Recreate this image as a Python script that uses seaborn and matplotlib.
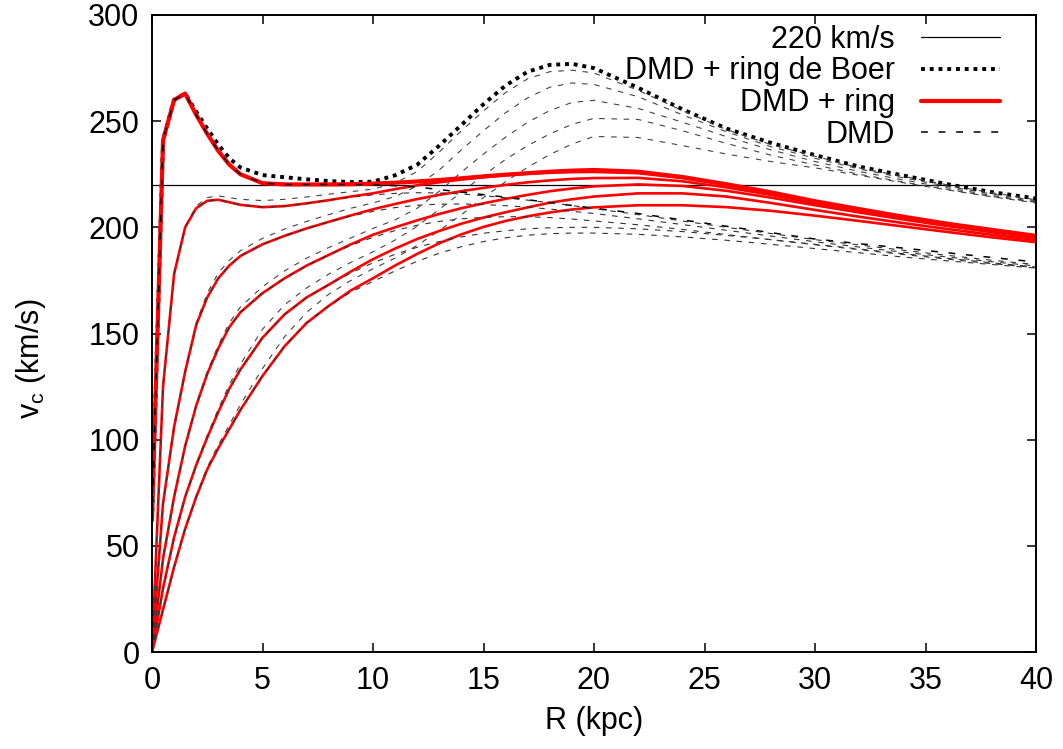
import matplotlib
matplotlib.use("Agg")
import matplotlib.pyplot as plt
import seaborn as sns

# ---------------------------------------------------------------------------
# Courbes de rotation : 6 modeles (0 = le plus concentre)
# ---------------------------------------------------------------------------
r_kpc = [0, 0.5, 1, 1.5, 2, 2.5, 3, 3.5, 4,
         5, 6, 7, 8, 9, 10, 11, 12, 13, 14, 15, 16, 17, 18, 19, 20,
         22, 24, 26, 28, 30, 32, 34, 36, 38, 40]

# DMD seul
v_dmd = [
    [62, 241, 260, 263, 253, 244, 236, 229.5, 225,
     220.8, 220.2, 220.2, 220.2, 220.2, 220, 219.6, 219, 217.8, 216.6, 215.4, 214.2, 213, 211.6, 210.3, 209,
     206.5, 203.5, 200.5, 197.5, 194.5, 192.3, 190.2, 188, 185.8, 183.7],
    [0, 125, 178, 200, 209, 212.5, 213, 211.8, 210.6,
     209.5, 210, 211.3, 212.8, 214.2, 215.3, 216, 216.3, 216.2, 215.7, 214.9, 213.9, 212.8, 211.6, 210.3, 208.8,
     206, 203, 200, 197.1, 194.2, 191.7, 189.2, 186.8, 184.5, 182.5],
    [0, 70, 106, 132, 154, 167, 176, 182, 186.5,
     192, 196, 199.5, 202.6, 205.3, 207.5, 209.3, 210.4, 210.9, 211, 210.7, 210.2, 209.5, 208.6, 207.6, 206.5,
     204, 201.3, 198.6, 195.9, 193.2, 190.7, 188.3, 186, 183.8, 181.8],
    [0, 44, 73, 97, 116, 131, 143, 153, 160,
     169, 176, 182, 187, 191.5, 195.3, 198.5, 201, 202.8, 204, 204.7, 205, 205, 204.6, 203.9, 203,
     201.2, 199, 196.6, 194.2, 191.8, 189.5, 187.2, 185, 182.9, 181],
    [0, 30, 54, 73, 88, 101, 113, 124, 133,
     148, 159, 167, 173, 178.5, 183.3, 187.3, 190.6, 193.3, 195.5, 197.2, 198.4, 199.3, 199.8, 200, 200,
     199.3, 198, 196.2, 194.2, 192, 189.8, 187.6, 185.4, 183.3, 181.3],
    [0, 20, 40, 58, 73, 86, 96, 105, 114,
     130, 144, 155, 163, 169.5, 174.5, 179.5, 184, 187.8, 190.9, 193.3, 195.1, 196.3, 197, 197.3, 197.3,
     196.7, 195.5, 193.9, 192, 190, 188, 186, 184.2, 182.5, 180.8],
]

# DMD + ring
v_ring = [
    [62, 241, 260, 263, 253, 244, 236, 229.5, 225,
     220.8, 220.2, 220.2, 220.2, 220.3, 220.6, 221, 221.6, 222.3, 223.1, 224, 224.8, 225.5, 226.2, 226.7, 227,
     226.2, 223.7, 220.3, 216.5, 212.3, 208.6, 205, 201.7, 198.8, 196],
    [0, 125, 178, 200, 209, 212.5, 213, 211.8, 210.6,
     209.5, 210, 211.3, 212.8, 214.5, 216, 218, 219.8, 221.2, 222.5, 223.6, 224.5, 225.2, 225.7, 226, 226.1,
     225.5, 223.2, 220, 216.3, 212, 208.3, 204.8, 201.5, 198.5, 195.7],
    [0, 70, 106, 132, 154, 167, 176, 182, 186.5,
     192, 196, 199.5, 202.6, 205.6, 208.5, 211, 213.3, 215.3, 217, 218.6, 220, 221.2, 222.1, 222.8, 223.2,
     223.3, 221.7, 218.8, 215.3, 211.3, 207.7, 204.3, 201.1, 198.2, 195.3],
    [0, 44, 73, 97, 116, 131, 143, 153, 160,
     169, 176, 182, 187, 192, 196.5, 200, 203.3, 206.3, 209, 211.3, 213.4, 215.3, 217, 218.3, 219.3,
     220.2, 219.5, 217.2, 214, 210.4, 207, 203.7, 200.6, 197.7, 195],
    [0, 30, 54, 73, 88, 101, 113, 124, 133,
     148, 159, 167, 173, 179.2, 185, 190, 194.5, 198.3, 201.7, 204.6, 207.1, 209.4, 211.6, 213.2, 214.5,
     216, 216, 214.5, 211.5, 208.2, 205, 202, 199.2, 196.5, 194],
    [0, 20, 40, 58, 73, 86, 96, 105, 114,
     130, 144, 155, 163, 170.3, 176, 182, 187.5, 192.5, 196.7, 200.2, 203, 205.2, 207, 208.4, 209.4,
     210.4, 210.4, 209.5, 207.8, 205.5, 203, 200.4, 197.8, 195.3, 193],
]

# DMD + ring de Boer
v_boer = [
    [62, 241, 260, 263, 254.5, 246.5, 239, 232.5, 228.2,
     224.6, 223.6, 222.6, 221.8, 221.3, 221.5, 224.5, 229.5, 238.5, 248.2, 258, 266.8, 273.3, 276.5, 277, 275,
     265.7, 255.6, 246.5, 239.8, 234, 228.6, 224.4, 220.3, 216.6, 213.6],
    [0, 125, 178, 200, 210, 214, 214.8, 214, 213.2,
     212.6, 213.2, 214.3, 215.6, 216.8, 218, 220.8, 226.3, 235.5, 245.5, 254.8, 263.5, 270, 273.3, 274, 272.7,
     264.5, 255, 246, 239, 233.5, 228, 224, 220, 216.3, 213],
    [0, 70, 106, 132, 155, 169, 178.5, 184.5, 189,
     194.8, 199.2, 202.8, 206, 209, 211.5, 214.5, 219.5, 227, 236.5, 245.5, 254, 261, 266, 268, 267.3,
     261.5, 253, 245, 238, 232.5, 227.5, 223.3, 219.3, 215.7, 212.5],
    [0, 44, 73, 97, 116.5, 132, 144.5, 155, 162.5,
     172, 179.5, 185.5, 190.5, 195, 199.5, 203.5, 209, 217, 226, 234.5, 242.5, 249.5, 255, 258.8, 259.8,
     256, 249.5, 242.7, 236.5, 231, 226.3, 222.3, 218.6, 215, 212],
    [0, 30, 54, 73, 88.5, 102, 114.5, 126, 135.5,
     152, 163.5, 171.5, 178, 183.5, 188.5, 194, 200.5, 208.5, 216.5, 224.5, 232, 238.5, 244, 248.5, 251.3,
     250.8, 245.5, 239.5, 234, 229.4, 225, 221.3, 217.8, 214.5, 211.8],
    [0, 20, 40, 58, 73.5, 87, 97.5, 107, 116.5,
     133.5, 148.5, 160, 168.5, 175, 180.5, 185.5, 191.5, 198.5, 206, 214, 221.5, 228.3, 234.3, 239.2, 242.8,
     242.3, 238.5, 234.5, 231, 228, 224.5, 221, 217.6, 214.4, 211.5],
]

v_ref = 220

# ---------------------------------------------------------------------------
# Style (gnuplot-like)
# ---------------------------------------------------------------------------
sns.set_theme(style="ticks")
plt.rcParams.update({
    "font.family": ["Liberation Sans", "DejaVu Sans"],
    "font.size": 22,
    "text.color": "black",
    "axes.labelcolor": "black",
    "xtick.color": "black",
    "ytick.color": "black",
    "mathtext.fontset": "custom",
    "mathtext.rm": "Liberation Sans",
    "mathtext.it": "Liberation Sans:italic",
    "axes.linewidth": 1.4,
    "axes.edgecolor": "black",
    "figure.facecolor": "white",
})

fig = plt.figure(figsize=(10.63, 7.49), dpi=100)
ax = fig.add_axes([152 / 1063, 1 - 652 / 749, 884 / 1063, 637 / 749])

h_ref = ax.axhline(v_ref, color="black", lw=0.9)

common = dict(ax=ax, estimator=None, sort=False, legend=False)

# de Boer d'abord, puis ring, puis DMD par-dessus (ordre gnuplot)
for i, v in enumerate(v_boer):
    if i == 0:
        sns.lineplot(x=r_kpc, y=v, color="black", linewidth=2.8,
                     linestyle=(0, (1, 1.25)), **common)
        h_boer = ax.lines[-1]
    else:
        sns.lineplot(x=r_kpc, y=v, color="#444444", linewidth=0.8,
                     linestyle=(0, (5, 6)), **common)

for i, v in enumerate(v_ring):
    sns.lineplot(x=r_kpc, y=v, color="#ff0000",
                 linewidth=3.0 if i == 0 else 1.9, **common)
    if i == 0:
        h_ring = ax.lines[-1]

for i, v in enumerate(v_dmd):
    if i == 0:
        sns.lineplot(x=r_kpc, y=v, color="black", linewidth=1.1,
                     linestyle=(0, (4.5, 7)), **common)
        h_dmd = ax.lines[-1]
    else:
        sns.lineplot(x=r_kpc, y=v, color="#333333", linewidth=0.8,
                     linestyle=(0, (5, 6)), **common)

ax.set_xlim(0, 40)
ax.set_ylim(0, 300)
ax.set_xticks(range(0, 41, 5))
ax.set_yticks(range(0, 301, 50))
ax.tick_params(direction="in", length=6.5, width=1.1, top=True, right=True,
               labelsize=22)
ax.tick_params(axis="x", pad=10)
ax.tick_params(axis="y", pad=9)
for s in ax.spines.values():
    s.set_visible(True)

ax.set_xlabel("R (kpc)", fontsize=22)
ax.set_ylabel(r"v$_{\mathrm{c}}$ (km/s)", fontsize=22)
ax.xaxis.set_label_coords(0.5, -0.085)
ax.yaxis.set_label_coords(-0.118, 0.46)

ax.legend([h_ref, h_boer, h_ring, h_dmd],
          ["220 km/s", "DMD + ring de Boer", "DMD + ring", "DMD"],
          loc="upper right", bbox_to_anchor=((1000 - 152) / 884, 0.985),
          frameon=False, markerfirst=False, fontsize=22,
          borderpad=0, borderaxespad=0, handlelength=2.6,
          handletextpad=0.85, labelspacing=0.06)

fig.savefig("out.png", dpi=100)
